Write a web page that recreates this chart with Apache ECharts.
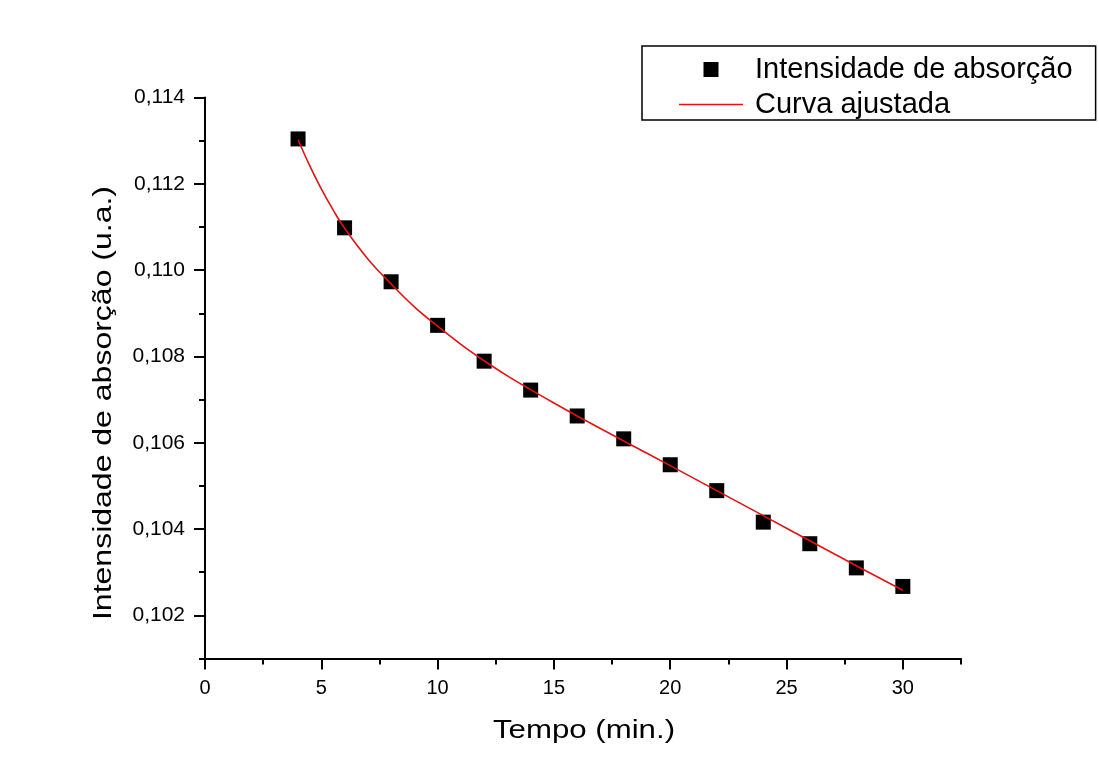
<!DOCTYPE html>
<html>
<head>
<meta charset="utf-8">
<script src="https://cdn.jsdelivr.net/npm/echarts@6/dist/echarts.min.js"></script>
<style>
  html, body { margin: 0; padding: 0; background: #ffffff; }
  #chart { width: 1099px; height: 781px; }
</style>
</head>
<body>
<div id="chart"></div>
<script>
// Measured absorption intensity over time
const tempo = [4, 6, 8, 10, 12, 14, 16, 18, 20, 22, 24, 26, 28, 30];
const intensidade = [0.11304, 0.11098, 0.10973, 0.10872, 0.10789, 0.10722, 0.10662,
                     0.10609, 0.10549, 0.10489, 0.10416, 0.10366, 0.10310, 0.10267];

// Fitted curve, sampled along the time axis
const curvaT = [4, 4.5, 5, 5.5, 6, 7, 8, 9, 10, 11, 12, 13, 14, 15, 16, 18, 20, 22, 24, 26, 28, 30];
const curvaY = [0.11302, 0.11242, 0.11188, 0.11140, 0.11097, 0.11026, 0.10968, 0.10915,
                0.10870, 0.10828, 0.10790, 0.10755, 0.10723, 0.10692, 0.10662, 0.10604,
                0.10547, 0.10489, 0.10431, 0.10373, 0.10315, 0.10258];

// Axis ranges and tick steps
const xRange = [0, 32.5], xMinorStep = 2.5, xMajorRange = [0, 30], xMajorStep = 5;
const yRange = [0.101, 0.114], yMinorStep = 0.001, yMajorRange = [0.102, 0.114], yMajorStep = 0.002;

const seriesNames = ['Intensidade de absorção', 'Curva ajustada'];
const xTitle = 'Tempo (min.)';
const yTitle = 'Intensidade de absorção (u.a.)';

const FONT = '"Liberation Sans", Arial, sans-serif';
const plotLeft = 205, plotTop = 97.5, plotW = 756, plotH = 561;
// second grid carries the long (labelled) ticks; its extent is a sub-range of the first
const majorW = plotW * (xMajorRange[1] - xMajorRange[0]) / (xRange[1] - xRange[0]);
const majorH = plotH * (yMajorRange[1] - yMajorRange[0]) / (yRange[1] - yRange[0]);
const xOffset = plotH - majorH;

// legend icons: a filled square and a short horizontal stroke
const squareIcon = 'path://M0 0H10V10H0Z';
const strokeIcon = 'path://M0 0H64V1.6H0Z';

const chart = echarts.init(document.getElementById('chart'), null, { renderer: 'canvas' });

const option = {
  backgroundColor: '#ffffff',
  animation: false,
  grid: [
    { left: plotLeft, top: plotTop, width: plotW, height: plotH },
    { left: plotLeft, top: plotTop, width: majorW, height: majorH }
  ],
  xAxis: [
    {
      gridIndex: 0, type: 'value', min: xRange[0], max: xRange[1], interval: xMinorStep,
      axisLine: { show: true, onZero: false, lineStyle: { color: '#000', width: 2 } },
      axisTick: { show: true, length: 6, lineStyle: { color: '#000', width: 2 } },
      axisLabel: { show: false },
      splitLine: { show: false }
    },
    {
      gridIndex: 1, type: 'value', min: xMajorRange[0], max: xMajorRange[1], interval: xMajorStep,
      position: 'bottom', offset: xOffset,
      axisLine: { show: false, onZero: false },
      axisTick: { show: true, length: 11, lineStyle: { color: '#000', width: 2 } },
      axisLabel: { show: true, margin: 20, fontSize: 20, color: '#000', fontFamily: FONT },
      splitLine: { show: false }
    }
  ],
  yAxis: [
    {
      gridIndex: 0, type: 'value', min: yRange[0], max: yRange[1], interval: yMinorStep,
      axisLine: { show: true, onZero: false, lineStyle: { color: '#000', width: 2 } },
      axisTick: { show: true, length: 6, lineStyle: { color: '#000', width: 2 } },
      axisLabel: { show: false },
      splitLine: { show: false }
    },
    {
      gridIndex: 1, type: 'value', min: yMajorRange[0], max: yMajorRange[1], interval: yMajorStep,
      axisLine: { show: false, onZero: false },
      axisTick: { show: true, length: 11, lineStyle: { color: '#000', width: 2 } },
      axisLabel: {
        show: true, margin: 20, fontSize: 21, color: '#000', fontFamily: FONT,
        formatter: v => v.toFixed(3).replace('.', ',')
      },
      splitLine: { show: false }
    }
  ],
  legend: {
    orient: 'vertical',
    left: 642, top: 46,
    backgroundColor: '#ffffff',
    borderColor: '#000', borderWidth: 1.5, borderRadius: 0,
    padding: [9, 23, 1, 37],
    itemWidth: 64, itemHeight: 15, itemGap: 6,
    symbolKeepAspect: true,
    textStyle: { fontSize: 29, color: '#000', fontFamily: FONT, padding: [0, 0, 0, 7] },
    data: [
      { name: seriesNames[0], icon: squareIcon },
      { name: seriesNames[1], icon: strokeIcon }
    ]
  },
  graphic: [
    {
      type: 'text', x: 584, y: 731, scaleX: 1.2,
      style: { text: xTitle, x: 0, y: 0, align: 'center', verticalAlign: 'middle',
               fontSize: 26, fill: '#000', fontFamily: FONT }
    },
    {
      type: 'text', x: 104, y: 403, rotation: Math.PI / 2, scaleX: 1.28,
      style: { text: yTitle, x: 0, y: 0, align: 'center', verticalAlign: 'middle',
               fontSize: 25, fill: '#000', fontFamily: FONT }
    }
  ],
  series: [
    {
      name: seriesNames[1],
      type: 'line',
      xAxisIndex: 0, yAxisIndex: 0,
      data: curvaT.map((t, i) => [t, curvaY[i]]),
      symbol: 'none',
      smooth: 0.4,
      lineStyle: { color: '#e01414', width: 1.6 },
      itemStyle: { color: '#e01414' },
      z: 3
    },
    {
      name: seriesNames[0],
      type: 'scatter',
      xAxisIndex: 0, yAxisIndex: 0,
      data: tempo.map((t, i) => [t, intensidade[i]]),
      symbol: 'rect',
      symbolSize: 15,
      itemStyle: { color: '#000000', opacity: 1 },
      z: 2
    }
  ]
};

chart.setOption(option);
</script>
</body>
</html>
